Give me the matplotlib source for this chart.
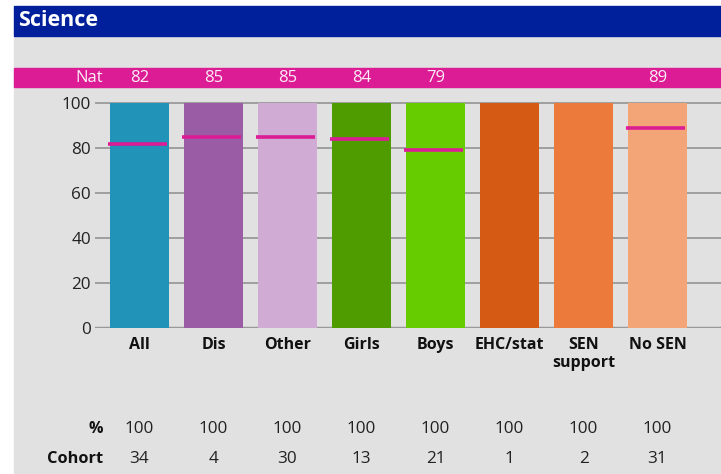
import matplotlib.pyplot as plt
import matplotlib.patches as pt
import matplotlib.transforms as tr

# data
groups = ["All", "Dis", "Other", "Girls", "Boys", "EHC/stat", "SEN\nsupport", "No SEN"]
pct = [100, 100, 100, 100, 100, 100, 100, 100]
nat = [82, 85, 85, 84, 79, None, None, 89]
cohort = [34, 4, 30, 13, 21, 1, 2, 31]
colors = ["#2193b8", "#9a5ca5", "#d0abd4", "#4f9c00", "#66cc00", "#d55a13", "#ec7a3b", "#f3a577"]

W, H = 721, 474
fig = plt.figure(figsize=(W / 100, H / 100), dpi=100)
plt.rcParams['font.family'] = ['Open Sans', 'DejaVu Sans']


def fy(py):
	return 1 - py / H


def fx(px):
	return px / W


# backgrounds
fig.patches.append(pt.Rectangle((fx(14), 0), 1, fy(36), color="#e1e1e1", transform=fig.transFigure, zorder=-2))
fig.patches.append(pt.Rectangle((fx(14), fy(36)), 1, 30 / H, color="#00209b", transform=fig.transFigure, zorder=-2))
fig.patches.append(pt.Rectangle((fx(14), fy(87)), 1, 19 / H, color="#dc1c94", transform=fig.transFigure, zorder=-1))
fig.text(fx(18), fy(20), "Science", color="white", fontsize=15.5, fontweight="bold", va="center")

# axes: 0 at y=328, 100 at y=103
top = 101.5
ax = fig.add_axes([fx(95), fy(328), 1 - fx(95), top * 2.25 / H])
ax.set_facecolor("none")
ax.set_ylim(0, top)
ax.set_xlim((95 - 139.5) / 74, (721 - 139.5) / 74)
for s in ax.spines.values():
	s.set_visible(False)
ax.set_xticks([])
ax.set_yticks([0, 20, 40, 60, 80, 100])
ax.tick_params(axis="y", length=0, pad=3, labelsize=12.3, labelcolor="#222222")
for v in [20, 40, 60, 80, 100]:
	ax.axhline(v, color="#999999", lw=1.3, zorder=1)
ax.axhline(0, color="#999999", lw=2.5, zorder=1)

x = list(range(len(groups)))
ax.bar(x, pct, width=59 / 74, color=colors, zorder=2)
for i, v in enumerate(nat):
	if v is not None:
		ax.hlines(v, i - 31.5 / 74, i + 27.5 / 74, color="#dc1c94", lw=2.6, zorder=3)

trans = tr.blended_transform_factory(ax.transData, fig.transFigure)
lx = (103 - 139.5) / 74

# pink band values
fig.text(fx(103), fy(78), "Nat", color="white", fontsize=12, ha="right", va="center", alpha=0.92)
for i, v in enumerate(nat):
	if v is not None:
		ax.text(i, fy(78), str(v), transform=trans, color="white", fontsize=12, ha="center", va="center", alpha=0.92)

# category labels
for i, g in enumerate(groups):
	ax.text(i, fy(337), g, transform=trans, fontsize=11.5, fontweight="bold", ha="center", va="top",
		linespacing=1.2, color="#111111", clip_on=False)

# table rows
ax.text(lx, fy(429), "%", transform=trans, fontsize=11.5, fontweight="bold", ha="right", va="center", color="#111111")
ax.text(lx, fy(459), "Cohort", transform=trans, fontsize=11.8, fontweight="bold", ha="right", va="center", color="#111111")
for i in x:
	ax.text(i, fy(429), str(pct[i]), transform=trans, fontsize=12.3, ha="center", va="center", color="#222222")
	ax.text(i, fy(459), str(cohort[i]), transform=trans, fontsize=12.3, ha="center", va="center", color="#222222")

fig.savefig("out.png", dpi=100, facecolor="white")
